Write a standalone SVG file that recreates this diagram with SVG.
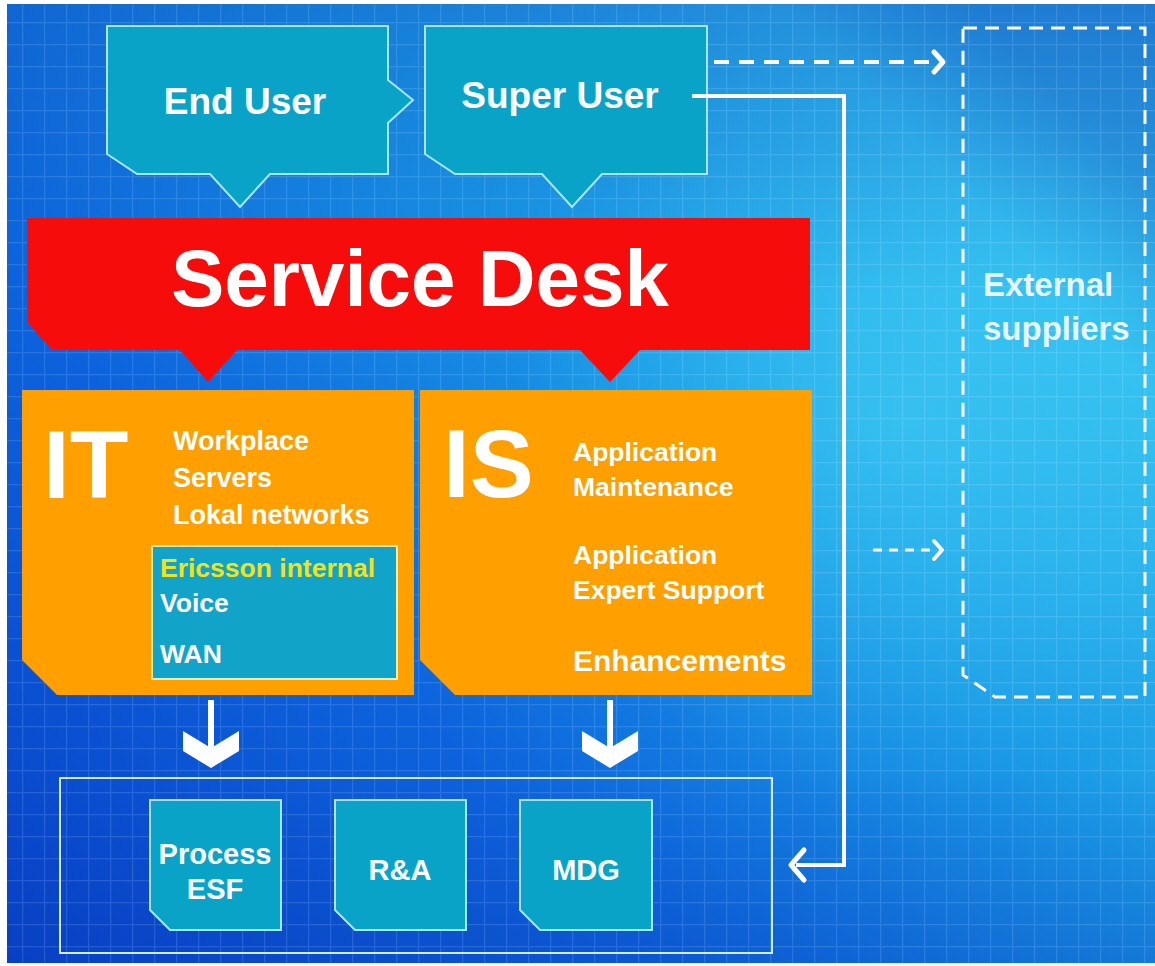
<svg xmlns="http://www.w3.org/2000/svg" width="1155" height="966" viewBox="0 0 1155 966">
<defs>
<linearGradient id="bg" x1="0" y1="1" x2="1" y2="0.2">
<stop offset="0" stop-color="#0842c8"/>
<stop offset="0.35" stop-color="#0d63dc"/>
<stop offset="0.65" stop-color="#1a9ae6"/>
<stop offset="0.9" stop-color="#30bdef"/>
<stop offset="1" stop-color="#2a9ee0"/>
</linearGradient>
<radialGradient id="glow" cx="900" cy="420" r="380" gradientUnits="userSpaceOnUse">
<stop offset="0" stop-color="#45d4f6" stop-opacity="0.55"/>
<stop offset="1" stop-color="#45d4f6" stop-opacity="0"/>
</radialGradient>
<linearGradient id="shade" x1="0" y1="0" x2="0" y2="1">
<stop offset="0" stop-color="#0a3cb8" stop-opacity="0.35"/>
<stop offset="0.3" stop-color="#0a3cb8" stop-opacity="0"/>
<stop offset="0.8" stop-color="#0a3cb8" stop-opacity="0"/>
<stop offset="1" stop-color="#0a3cb8" stop-opacity="0.3"/>
</linearGradient>
<pattern id="grid" width="22" height="22" patternUnits="userSpaceOnUse">
<path d="M0 0.5H22M0.5 0V22" stroke="#ffffff" stroke-opacity="0.12" stroke-width="1.5" fill="none"/>
</pattern>
</defs>
<style>
.teal{fill:#0aa3c8;stroke:#a8e6f4;stroke-width:2}
.orange{fill:#ffa000}
.red{fill:#f70c0c}
.t{font-family:"Liberation Sans",Arial,sans-serif;font-weight:bold;fill:#ffffff}
.conn{stroke:#ffffff;fill:none;stroke-width:4}
.dash{stroke:#ffffff;fill:none;stroke-width:4;stroke-dasharray:15 10}
.head{stroke:#ffffff;fill:none;stroke-width:5;stroke-linecap:round;stroke-linejoin:round}
</style>
<rect width="1155" height="966" fill="#ffffff"/>
<rect x="7" y="4" width="1148" height="959" fill="url(#bg)"/>
<rect x="7" y="4" width="1148" height="959" fill="url(#glow)"/>
<rect x="7" y="4" width="1148" height="959" fill="url(#shade)"/>
<rect x="7" y="4" width="1148" height="959" fill="url(#grid)"/>

<g id="external-suppliers">
<path d="M963 28H1145V697H995L963 675Z" fill="none" stroke="#ffffff" stroke-width="3" stroke-dasharray="14 8"/>
<text class="t" x="983" y="296" font-size="33" fill-opacity="0.9">External</text>
<text class="t" x="983" y="340" font-size="33" fill-opacity="0.9">suppliers</text>
</g>

<g id="end-user">
<path class="teal" d="M107 26H388V80L413 100L388 123V174H270L240 207L210 174H137L107 154Z"/>
<text class="t" x="245" y="114" font-size="37" text-anchor="middle">End User</text>
</g>

<g id="super-user">
<path class="teal" d="M425 26H707V174H602L572 207L542 174H455L425 154Z"/>
<text class="t" x="560" y="108" font-size="37" text-anchor="middle">Super User</text>
</g>

<g id="service-desk">
<path class="red" d="M27 218H810V350H640L610 382L580 350H237L208 382L180 350H52L27 322Z"/>
<text class="t" x="420" y="306" font-size="80" text-anchor="middle">Service Desk</text>
</g>

<g id="it">
<path class="orange" d="M22 390H414V695H57L22 660Z"/>
<text class="t" x="43" y="498" font-size="96">IT</text>
<text class="t" x="173" y="450" font-size="27">Workplace</text>
<text class="t" x="173" y="487" font-size="27">Servers</text>
<text class="t" x="173" y="524" font-size="27">Lokal networks</text>
<g id="ericsson-internal">
<rect x="152" y="546" width="245" height="133" fill="#12a4c8" stroke="#f3eeb0" stroke-width="2"/>
<text class="t" x="160" y="577" font-size="26.5" style="fill:#f2e21a">Ericsson internal</text>
<text class="t" x="160" y="612" font-size="26.5">Voice</text>
<text class="t" x="160" y="663" font-size="26.5">WAN</text>
</g>
</g>

<g id="is">
<path class="orange" d="M420 390H812V695H455L420 660Z"/>
<text class="t" x="443" y="497" font-size="96">IS</text>
<text class="t" x="573" y="461" font-size="26.5">Application</text>
<text class="t" x="573" y="496" font-size="26.5">Maintenance</text>
<text class="t" x="573" y="564" font-size="26.5">Application</text>
<text class="t" x="573" y="599" font-size="26.5">Expert Support</text>
<text class="t" x="573" y="671" font-size="30">Enhancements</text>
</g>

<g id="support-container">
<rect x="60" y="778" width="712" height="175" fill="none" stroke="#cfeefa" stroke-width="2"/>
</g>

<g id="process-esf">
<path class="teal" d="M150 800H281V930H170L150 910Z"/>
<text class="t" x="215" y="864" font-size="29" text-anchor="middle">Process</text>
<text class="t" x="215" y="899" font-size="29" text-anchor="middle">ESF</text>
</g>
<g id="r-and-a">
<path class="teal" d="M335 800H466V930H355L335 910Z"/>
<text class="t" x="400" y="880" font-size="29" text-anchor="middle">R&amp;A</text>
</g>
<g id="mdg">
<path class="teal" d="M520 800H652V930H540L520 910Z"/>
<text class="t" x="586" y="880" font-size="29" text-anchor="middle">MDG</text>
</g>

<g id="connectors">
<path class="conn" d="M692 96H844V865H796"/>
<path class="head" d="M804 850L791 865L804 880"/>
<path class="dash" d="M714 62H935"/>
<path class="head" d="M934 52L943 62L934 72"/>
<path class="dash" d="M873 550H936" style="stroke-dasharray:9 7;stroke-width:3"/>
<path class="head" d="M934 541L942 550L934 559" style="stroke-width:4"/>
<g fill="#ffffff">
<rect x="208" y="700" width="6" height="50"/>
<path d="M183 731L211 748L239 731V751L211 768L183 751Z"/>
<rect x="607" y="700" width="6" height="50"/>
<path d="M582 731L610 748L638 731V751L610 768L582 751Z"/>
</g>
</g>
</svg>
